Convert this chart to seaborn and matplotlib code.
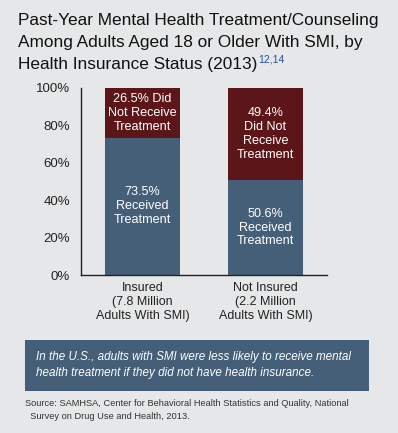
import pandas as pd
import matplotlib.pyplot as plt
import seaborn as sns
from matplotlib.patches import Rectangle

groups = ["Insured\n(7.8 Million\nAdults With SMI)", "Not Insured\n(2.2 Million\nAdults With SMI)"]
received = [73.5, 50.6]
not_received = [26.5, 49.4]
received_labels = ["73.5%\nReceived\nTreatment", "50.6%\nReceived\nTreatment"]
not_received_labels = ["26.5% Did\nNot Receive\nTreatment", "49.4%\nDid Not\nReceive\nTreatment"]
y_ticks = [0, 20, 40, 60, 80, 100]

bg = "#e6e7e8"
blue = "#465f78"
red = "#5c1519"

df = pd.DataFrame({"group": groups, "received": received, "not_received": not_received})
df["total"] = df["received"] + df["not_received"]

sns.set_style("white")
plt.rcParams["font.family"] = ["Liberation Sans", "DejaVu Sans"]

fig = plt.figure(figsize=(3.98, 4.33), dpi=100, facecolor=bg)
ax = fig.add_axes([81 / 398, 1 - 275 / 433, 246 / 398, 187 / 433])
ax.set_facecolor(bg)

sns.barplot(data=df, x="group", y="total", color=red, width=0.61, saturation=1,
            linewidth=0, ax=ax)
sns.barplot(data=df, x="group", y="received", color=blue, width=0.61, saturation=1,
            linewidth=0, ax=ax)

for i in range(len(groups)):
    ax.text(i, received[i] / 2, received_labels[i], ha="center", va="center",
            color="white", fontsize=9.1, linespacing=1.2)
    ax.text(i, received[i] + not_received[i] / 2, not_received_labels[i], ha="center", va="center",
            color="white", fontsize=9.1, linespacing=1.2)

ax.set_xlim(-0.5, 1.5)
ax.set_ylim(0, 100)
ax.set_yticks(y_ticks)
ax.set_yticklabels([f"{t}%" for t in y_ticks], fontsize=9.5, color="#222222")
ax.tick_params(axis="both", length=0, pad=8)
ax.tick_params(axis="x", pad=5)
plt.setp(ax.get_xticklabels(), fontsize=9, color="#222222", linespacing=1.25)
ax.set_xlabel("")
ax.set_ylabel("")
for s in ["top", "right"]:
    ax.spines[s].set_visible(False)
for s in ["left", "bottom"]:
    ax.spines[s].set_color("#222222")
    ax.spines[s].set_linewidth(1)

# title with superscript
title_lines = ["Past-Year Mental Health Treatment/Counseling",
               "Among Adults Aged 18 or Older With SMI, by",
               "Health Insurance Status (2013)"]
last = None
for k, line in enumerate(title_lines):
    last = fig.text(18 / 398, 1 - (20 + k * 22.5) / 433, line, ha="left", va="center",
                    fontsize=12.4, color="#111111")
fig.canvas.draw()
bb = last.get_window_extent()
x_sup = bb.x1 / fig.bbox.width
fig.text(x_sup + 0.002, 1 - 60 / 433, "12,14", ha="left", va="center",
         fontsize=7.5, color="#2f4f9a")

# message box
fig.patches.append(Rectangle((25 / 398, 1 - 391 / 433), 344 / 398, 51 / 433,
                             transform=fig.transFigure, facecolor=blue, edgecolor="none"))
fig.text(36 / 398, 1 - 365 / 433,
         "In the U.S., adults with SMI were less likely to receive mental\nhealth treatment if they did not have health insurance.",
         ha="left", va="center", fontsize=8.4, style="italic", color="white", linespacing=1.55)

fig.text(25 / 398, 1 - 410 / 433,
         "Source: SAMHSA, Center for Behavioral Health Statistics and Quality, National\n  Survey on Drug Use and Health, 2013.",
         ha="left", va="center", fontsize=6.7, color="#333333", linespacing=1.5)

fig.savefig("out.png", dpi=100, facecolor=bg)
